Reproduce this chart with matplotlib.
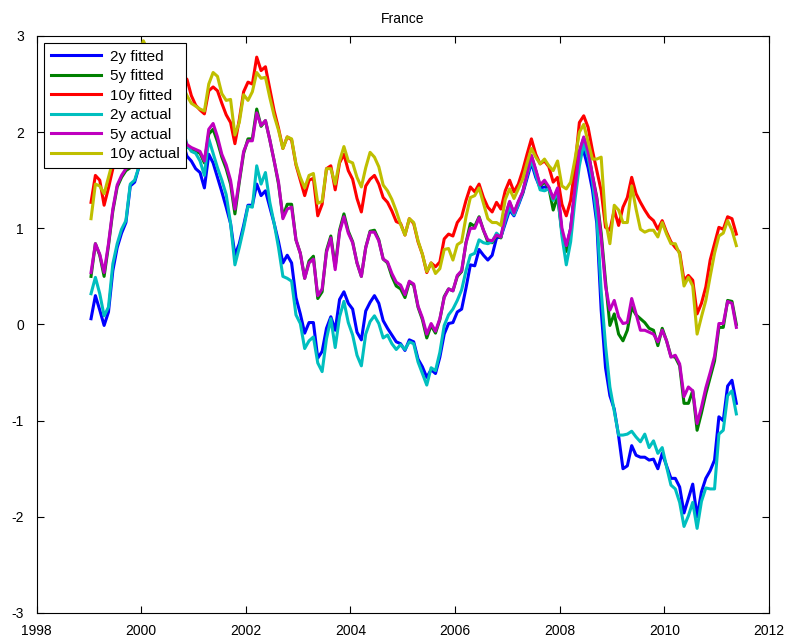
import numpy as np
import pandas as pd
import matplotlib
matplotlib.use("Agg")
import matplotlib.pyplot as plt

plt.rcParams['font.family'] = ['Liberation Sans', 'DejaVu Sans']
plt.rcParams['axes.unicode_minus'] = False

# monthly observations, Jan 1999 .. May 2011
months = pd.date_range('1999-01-01', periods=149, freq='MS')
t = months.year + (months.month - 0.5) / 12.0

y2_fit = [0.06, 0.30, 0.15, -0.01, 0.13, 0.56, 0.80, 0.95, 1.06, 1.44, 1.48, 1.64,
          1.72, 1.80, 1.88, 1.96, 2.05, 2.10, 2.15, 2.18, 2.10, 1.90, 1.75, 1.70,
          1.62, 1.58, 1.42, 1.77, 1.68, 1.53, 1.38, 1.22, 1.05, 0.72, 0.84, 1.03,
          1.24, 1.24, 1.46, 1.34, 1.39, 1.22, 1.05, 0.86, 0.64, 0.72, 0.64, 0.28,
          0.11, -0.09, 0.02, 0.02, -0.35, -0.28, -0.04, 0.08, -0.06, 0.26, 0.34, 0.22,
          0.16, -0.08, -0.16, 0.14, 0.23, 0.30, 0.22, 0.04, -0.04, -0.11, -0.18, -0.20,
          -0.27, -0.16, -0.18, -0.36, -0.44, -0.55, -0.47, -0.51, -0.34, -0.10, 0.01, 0.02,
          0.13, 0.16, 0.38, 0.62, 0.61, 0.78, 0.72, 0.67, 0.72, 0.90, 0.91, 1.05,
          1.19, 1.13, 1.24, 1.36, 1.52, 1.68, 1.53, 1.42, 1.43, 1.42, 1.30, 1.40,
          0.96, 0.80, 1.00, 1.40, 1.75, 1.80, 1.63, 1.40, 1.05, 0.15, -0.45, -0.74,
          -0.88, -1.16, -1.50, -1.47, -1.26, -1.36, -1.38, -1.38, -1.41, -1.40, -1.50, -1.34,
          -1.47, -1.60, -1.60, -1.69, -1.96, -1.81, -1.66, -2.00, -1.74, -1.60, -1.52, -1.41,
          -0.96, -1.00, -0.64, -0.58, -0.82]

y5_fit = [0.50, 0.84, 0.72, 0.50, 0.82, 1.18, 1.43, 1.53, 1.60, 1.63, 1.68, 1.70,
          1.78, 1.88, 1.98, 2.08, 2.18, 2.23, 2.28, 2.26, 2.13, 1.96, 1.85, 1.82,
          1.80, 1.78, 1.68, 1.98, 2.03, 1.90, 1.74, 1.62, 1.46, 1.15, 1.48, 1.78,
          1.93, 1.93, 2.24, 2.06, 2.12, 1.92, 1.70, 1.46, 1.12, 1.25, 1.25, 0.88,
          0.74, 0.48, 0.66, 0.71, 0.27, 0.34, 0.77, 0.92, 0.60, 0.98, 1.15, 0.97,
          0.86, 0.64, 0.50, 0.80, 0.97, 0.98, 0.88, 0.68, 0.64, 0.50, 0.40, 0.37,
          0.28, 0.44, 0.41, 0.18, 0.05, -0.14, -0.01, -0.09, 0.05, 0.29, 0.37, 0.35,
          0.50, 0.55, 0.85, 1.05, 1.02, 1.12, 0.98, 0.86, 0.85, 0.93, 0.90, 1.12,
          1.27, 1.16, 1.27, 1.37, 1.56, 1.75, 1.60, 1.44, 1.48, 1.42, 1.19, 1.33,
          0.96, 0.76, 0.98, 1.40, 1.79, 1.94, 1.80, 1.55, 1.32, 0.95, 0.45, -0.01,
          0.11, -0.10, -0.17, -0.06, 0.18, 0.10, 0.06, 0.02, -0.04, -0.06, -0.22, -0.04,
          -0.17, -0.33, -0.34, -0.43, -0.82, -0.82, -0.69, -1.10, -0.92, -0.72, -0.55, -0.38,
          -0.03, -0.03, 0.25, 0.24, 0.00]

y10_fit = [1.27, 1.55, 1.50, 1.24, 1.42, 1.62, 1.80, 2.00, 2.20, 2.40, 2.55, 2.72,
           2.85, 2.80, 2.70, 2.65, 2.72, 2.70, 2.68, 2.66, 2.62, 2.58, 2.55, 2.38,
           2.28, 2.23, 2.19, 2.43, 2.47, 2.43, 2.30, 2.18, 2.10, 1.88, 2.13, 2.42,
           2.52, 2.50, 2.78, 2.64, 2.68, 2.45, 2.22, 2.04, 1.83, 1.95, 1.92, 1.66,
           1.50, 1.34, 1.50, 1.52, 1.13, 1.25, 1.62, 1.65, 1.40, 1.68, 1.77, 1.60,
           1.51, 1.31, 1.17, 1.44, 1.51, 1.55, 1.46, 1.32, 1.27, 1.18, 1.07, 1.05,
           0.93, 1.10, 1.05, 0.86, 0.73, 0.54, 0.64, 0.60, 0.65, 0.89, 0.94, 0.92,
           1.06, 1.12, 1.29, 1.43, 1.38, 1.46, 1.32, 1.22, 1.17, 1.27, 1.20, 1.39,
           1.50, 1.38, 1.46, 1.60, 1.77, 1.93, 1.77, 1.67, 1.70, 1.64, 1.48, 1.53,
           1.25, 1.13, 1.29, 1.64, 2.10, 2.17, 2.05, 1.81, 1.60, 1.39, 1.01, 0.98,
           1.19, 1.03, 1.22, 1.32, 1.53, 1.36, 1.27, 1.19, 1.12, 1.08, 0.99, 1.08,
           0.96, 0.86, 0.80, 0.75, 0.46, 0.51, 0.46, 0.11, 0.22, 0.39, 0.67, 0.84,
           1.01, 0.99, 1.12, 1.10, 0.94]

y2_act = [0.32, 0.49, 0.32, 0.09, 0.18, 0.63, 0.84, 0.99, 1.08, 1.46, 1.50, 1.64,
          1.75, 1.85, 1.95, 2.05, 2.15, 2.20, 2.25, 2.30, 2.25, 2.05, 1.87, 1.80,
          1.78, 1.70, 1.55, 1.93, 1.78, 1.63, 1.50, 1.35, 1.05, 0.62, 0.80, 1.00,
          1.23, 1.22, 1.65, 1.46, 1.58, 1.27, 1.05, 0.80, 0.50, 0.48, 0.45, 0.10,
          0.01, -0.25, -0.17, -0.13, -0.40, -0.49, -0.15, 0.06, -0.24, 0.08, 0.24, 0.02,
          -0.11, -0.32, -0.43, -0.10, 0.03, 0.09, 0.01, -0.14, -0.11, -0.20, -0.26, -0.21,
          -0.26, -0.18, -0.20, -0.39, -0.51, -0.63, -0.45, -0.48, -0.29, -0.01, 0.10, 0.16,
          0.25, 0.36, 0.56, 0.72, 0.74, 0.88, 0.85, 0.84, 0.86, 0.95, 0.91, 1.08,
          1.22, 1.14, 1.25, 1.38, 1.55, 1.71, 1.56, 1.40, 1.39, 1.41, 1.29, 1.37,
          0.92, 0.62, 0.86, 1.30, 1.65, 1.88, 1.74, 1.49, 1.12, 0.35, -0.22, -0.65,
          -0.90, -1.15, -1.15, -1.14, -1.11, -1.17, -1.22, -1.14, -1.28, -1.21, -1.34, -1.28,
          -1.48, -1.67, -1.71, -1.85, -2.10, -1.99, -1.85, -2.12, -1.84, -1.70, -1.71, -1.71,
          -1.14, -1.10, -0.74, -0.69, -0.93]

y5_act = [0.54, 0.84, 0.73, 0.54, 0.84, 1.20, 1.45, 1.55, 1.62, 1.65, 1.70, 1.72,
          1.80, 1.90, 2.00, 2.10, 2.20, 2.25, 2.30, 2.28, 2.15, 1.98, 1.87, 1.84,
          1.82, 1.80, 1.70, 2.03, 2.09, 1.95, 1.77, 1.66, 1.50, 1.20, 1.50, 1.80,
          1.91, 1.91, 2.20, 2.07, 2.12, 1.92, 1.70, 1.48, 1.10, 1.20, 1.22, 0.88,
          0.74, 0.48, 0.64, 0.68, 0.30, 0.37, 0.75, 0.90, 0.57, 0.96, 1.12, 0.95,
          0.85, 0.64, 0.50, 0.80, 0.96, 0.96, 0.87, 0.68, 0.65, 0.53, 0.44, 0.41,
          0.31, 0.45, 0.42, 0.19, 0.07, -0.10, 0.01, -0.07, 0.06, 0.28, 0.37, 0.35,
          0.51, 0.56, 0.85, 1.00, 1.00, 1.11, 0.98, 0.88, 0.87, 0.93, 0.91, 1.13,
          1.28, 1.16, 1.28, 1.38, 1.57, 1.76, 1.61, 1.45, 1.50, 1.43, 1.31, 1.42,
          1.00, 0.82, 1.00, 1.42, 1.80, 1.95, 1.80, 1.55, 1.30, 0.90, 0.40, 0.15,
          0.25, 0.08, 0.01, 0.02, 0.27, 0.11, -0.06, -0.06, -0.08, -0.10, -0.18, -0.06,
          -0.17, -0.34, -0.32, -0.41, -0.75, -0.65, -0.69, -1.03, -0.86, -0.66, -0.50, -0.33,
          0.01, 0.01, 0.24, 0.22, -0.03]

y10_act = [1.10, 1.46, 1.44, 1.36, 1.53, 1.70, 1.85, 2.05, 2.25, 2.45, 2.60, 2.80,
           2.95, 2.85, 2.75, 2.70, 2.80, 2.75, 2.72, 2.70, 2.60, 2.48, 2.38, 2.30,
           2.27, 2.24, 2.22, 2.50, 2.62, 2.58, 2.40, 2.33, 2.34, 1.97, 2.10, 2.39,
           2.33, 2.42, 2.62, 2.56, 2.57, 2.36, 2.17, 2.02, 1.83, 1.95, 1.93, 1.67,
           1.53, 1.42, 1.55, 1.57, 1.26, 1.28, 1.62, 1.62, 1.46, 1.70, 1.85, 1.70,
           1.68, 1.53, 1.43, 1.63, 1.79, 1.74, 1.64, 1.45, 1.39, 1.30, 1.18, 1.04,
           0.93, 1.10, 1.06, 0.87, 0.73, 0.55, 0.64, 0.53, 0.58, 0.78, 0.79, 0.67,
           0.83, 0.86, 1.12, 1.32, 1.34, 1.42, 1.26, 1.10, 1.06, 1.06, 1.03, 1.30,
           1.41, 1.31, 1.41, 1.51, 1.68, 1.83, 1.74, 1.67, 1.72, 1.65, 1.60, 1.70,
           1.44, 1.41, 1.48, 1.72, 2.00, 2.08, 1.90, 1.72, 1.72, 1.74, 1.08, 0.84,
           1.24, 1.19, 1.06, 1.06, 1.44, 1.20, 0.99, 0.96, 0.98, 0.98, 0.91, 1.06,
           0.94, 0.84, 0.84, 0.73, 0.40, 0.49, 0.40, -0.10, 0.08, 0.25, 0.50, 0.74,
           0.92, 0.95, 1.08, 0.98, 0.82]

series = [
    (y2_fit, (0, 0, 1), '2y fitted'),
    (y5_fit, (0, 0.5, 0), '5y fitted'),
    (y10_fit, (1, 0, 0), '10y fitted'),
    (y2_act, (0, 0.75, 0.75), '2y actual'),
    (y5_act, (0.75, 0, 0.75), '5y actual'),
    (y10_act, (0.75, 0.75, 0), '10y actual'),
]

fig = plt.figure(figsize=(7.89, 6.4), dpi=100)
ax = fig.add_axes([0.0463, 0.0422, 0.9284, 0.9016])

for vals, col, name in series:
    ax.plot(t, vals, color=col, lw=2.2, label=name)

ax.set_xlim(1998, 2012)
ax.set_ylim(-3, 3)
ax.set_xticks(np.arange(1998, 2013, 2))
ax.set_yticks(np.arange(-3, 4, 1))
ax.tick_params(direction='in', top=True, right=True, length=5, width=0.8,
               labelsize=10)
ax.tick_params(axis='x', pad=8)
ax.tick_params(axis='y', pad=9)
for sp in ax.spines.values():
    sp.set_linewidth(0.8)
ax.set_title('France', fontsize=10, pad=9)

leg = ax.legend(loc='upper left', bbox_to_anchor=(0.0102, 0.988), borderaxespad=0,
                fontsize=11, handlelength=3.3, labelspacing=0.36, handletextpad=0.55,
                borderpad=0.45, fancybox=False, framealpha=1, edgecolor='black')
leg.get_frame().set_linewidth(0.8)

fig.savefig('out.png', dpi=100)
